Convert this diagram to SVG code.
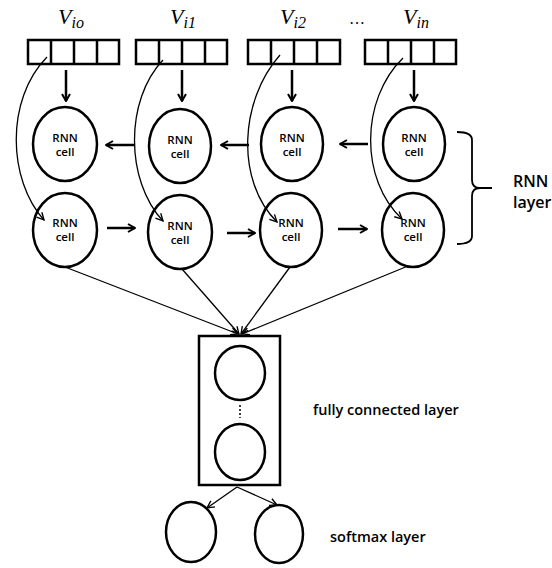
<svg xmlns="http://www.w3.org/2000/svg" width="552" height="568" viewBox="0 0 552 568">
<defs>
<marker id="ah" viewBox="0 0 10 10" refX="9" refY="5" markerWidth="9" markerHeight="9" markerUnits="userSpaceOnUse" orient="auto">
<path d="M1,1 L9,5 L1,9" fill="none" stroke="#000" stroke-width="1.5"/>
</marker>
<marker id="ahb" viewBox="0 0 10 10" refX="9" refY="5" markerWidth="10" markerHeight="10" markerUnits="userSpaceOnUse" orient="auto">
<path d="M2,1 L9,5 L2,9" fill="none" stroke="#000" stroke-width="2"/>
</marker>
</defs>
<style>
.box{fill:#fff;stroke:#000;stroke-width:2.5}
.cell{fill:#fff;stroke:#000;stroke-width:2.5}
.ct{font-family:"Open Sans","Noto Sans",sans-serif;font-size:11.5px;font-weight:600;text-anchor:middle;fill:#000}
.v{font-family:"Liberation Serif",serif;font-style:italic;font-size:22px;fill:#000}
.vs{font-size:16px}
.lbl{font-family:"Open Sans","Noto Sans",sans-serif;font-size:14.5px;font-weight:600;fill:#000}
.thick{stroke:#000;stroke-width:2.5;fill:none;marker-end:url(#ahb)}
.thin{stroke:#000;stroke-width:1.3;fill:none;marker-end:url(#ah)}
</style>
<rect width="552" height="568" fill="#fff"/>

<g id="labels">
<text class="v" x="58" y="24">V<tspan class="vs" dy="4">io</tspan></text>
<text class="v" x="170" y="24">V<tspan class="vs" dy="4">i1</tspan></text>
<text class="v" x="280" y="24">V<tspan class="vs" dy="4">i2</tspan></text>
<text class="v" x="349" y="24" style="font-style:normal;font-size:16px">…</text>
<text class="v" x="403" y="24">V<tspan class="vs" dy="4">in</tspan></text>
</g>

<g id="vec0"><rect class="box" x="28" y="40" width="91" height="24"/><path d="M51,40V64M74,40V64M97,40V64" stroke="#000" stroke-width="2.5"/></g>
<g id="vec1"><rect class="box" x="136" y="40" width="91" height="24"/><path d="M159,40V64M182,40V64M205,40V64" stroke="#000" stroke-width="2.5"/></g>
<g id="vec2"><rect class="box" x="248" y="40" width="92" height="24"/><path d="M271,40V64M294,40V64M317,40V64" stroke="#000" stroke-width="2.5"/></g>
<g id="vec3"><rect class="box" x="365" y="40" width="91" height="24"/><path d="M388,40V64M411,40V64M434,40V64" stroke="#000" stroke-width="2.5"/></g>

<g id="top0"><ellipse class="cell" cx="65" cy="144" rx="32" ry="37"/><text class="ct" x="65" y="142">RNN</text><text class="ct" x="65" y="156">cell</text></g>
<g id="top1"><ellipse class="cell" cx="180" cy="146" rx="31" ry="37"/><text class="ct" x="180" y="144">RNN</text><text class="ct" x="180" y="158">cell</text></g>
<g id="top2"><ellipse class="cell" cx="292" cy="144" rx="31" ry="37"/><text class="ct" x="292" y="142">RNN</text><text class="ct" x="292" y="156">cell</text></g>
<g id="top3"><ellipse class="cell" cx="414" cy="144" rx="31" ry="37"/><text class="ct" x="414" y="142">RNN</text><text class="ct" x="414" y="156">cell</text></g>

<g id="bot0"><ellipse class="cell" cx="65" cy="230" rx="32" ry="37"/><text class="ct" x="65" y="227">RNN</text><text class="ct" x="65" y="241">cell</text></g>
<g id="bot1"><ellipse class="cell" cx="180" cy="232" rx="32" ry="37"/><text class="ct" x="180" y="230">RNN</text><text class="ct" x="180" y="244">cell</text></g>
<g id="bot2"><ellipse class="cell" cx="291" cy="230" rx="31" ry="37"/><text class="ct" x="291" y="227">RNN</text><text class="ct" x="291" y="241">cell</text></g>
<g id="bot3"><ellipse class="cell" cx="413" cy="230" rx="31" ry="37"/><text class="ct" x="413" y="227">RNN</text><text class="ct" x="413" y="241">cell</text></g>

<g id="fc">
<rect class="box" x="199" y="336" width="81" height="149"/>
<ellipse class="cell" cx="240" cy="373" rx="25" ry="27"/>
<line x1="240" y1="405" x2="240" y2="418" stroke="#000" stroke-width="1.5" stroke-dasharray="2,2"/>
<ellipse class="cell" cx="240" cy="452" rx="25" ry="28"/>
</g>
<g id="sm0"><ellipse class="cell" cx="191" cy="532" rx="25" ry="30"/></g>
<g id="sm1"><ellipse class="cell" cx="279" cy="534" rx="24" ry="29"/></g>

<g id="bracket">
<path d="M457,132 Q472,132 472,140 L472,180 Q472,188 480,188 L492,188 M480,188 Q472,188 472,196 L472,236 Q472,244 457,244" fill="none" stroke="#000" stroke-width="1.8"/>
<text class="lbl" x="513" y="187" style="font-size:16px">RNN</text>
<text class="lbl" x="513" y="208" style="font-size:16px">layer</text>
</g>
<text class="lbl" x="313" y="415">fully connected layer</text>
<text class="lbl" x="330" y="542">softmax layer</text>

<g id="connectors">
<line class="thick" x1="66" y1="70" x2="66" y2="101"/>
<line class="thick" x1="182" y1="70" x2="182" y2="101"/>
<line class="thick" x1="292" y1="70" x2="292" y2="101"/>
<line class="thick" x1="414" y1="70" x2="414" y2="101"/>

<line class="thick" x1="134" y1="145" x2="106" y2="145"/>
<line class="thick" x1="249" y1="145" x2="221" y2="145"/>
<line class="thick" x1="368" y1="144" x2="340" y2="144"/>

<line class="thick" x1="107" y1="228" x2="135" y2="228"/>
<line class="thick" x1="227" y1="233" x2="255" y2="233"/>
<line class="thick" x1="338" y1="229" x2="367" y2="229"/>

<path class="thin" d="M47,57 C5,100 8,180 44,220"/>
<path class="thin" d="M163,60 C125,100 125,180 163,221"/>
<path class="thin" d="M280,55 C240,100 235,180 277,222"/>
<path class="thin" d="M403,58 C360,100 360,180 402,219"/>

<line class="thin" x1="65" y1="267" x2="238" y2="334"/>
<line class="thin" x1="182" y1="269" x2="239" y2="334"/>
<line class="thin" x1="290" y1="267" x2="241" y2="334"/>
<line class="thin" x1="408" y1="266" x2="242" y2="334"/>

<line class="thin" x1="237" y1="487" x2="207" y2="508"/>
<line class="thin" x1="237" y1="487" x2="277" y2="505"/>
</g>
</svg>
